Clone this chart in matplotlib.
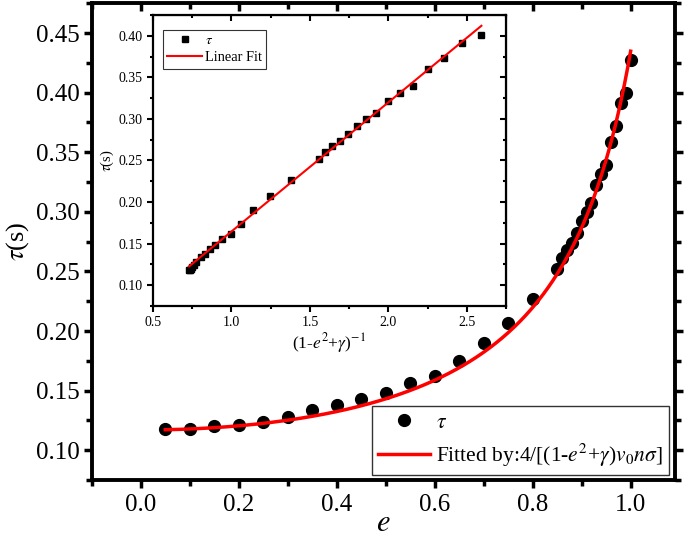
import numpy as np
import matplotlib
matplotlib.use('Agg')
import matplotlib.pyplot as plt
from matplotlib.ticker import MultipleLocator

plt.rcParams['font.family'] = ['Liberation Serif', 'DejaVu Serif']
plt.rcParams['mathtext.fontset'] = 'stix'

# main panel: relaxation time vs restitution coefficient
e_vals = [0.05, 0.10, 0.15, 0.20, 0.25, 0.30, 0.35, 0.40, 0.45, 0.50, 0.55, 0.60,
          0.65, 0.70, 0.75, 0.80, 0.85, 0.86, 0.87, 0.88, 0.89, 0.90, 0.91, 0.92,
          0.93, 0.94, 0.95, 0.96, 0.97, 0.98, 0.99, 1.00]
tau_vals = [0.118, 0.118, 0.120, 0.1215, 0.124, 0.128, 0.134, 0.138, 0.143, 0.148,
            0.156, 0.162, 0.1745, 0.190, 0.2066, 0.227, 0.252, 0.261, 0.268, 0.2736,
            0.282, 0.2926, 0.300, 0.307, 0.3225, 0.332, 0.339, 0.359, 0.372, 0.391,
            0.400, 0.427]

# fit parameters of tau = A / (1 - e^2 + gamma)
fit_A = 0.160
fit_gamma = 0.368

# inset: tau vs (1-e^2+gamma)^-1
inv_vals = [0.730, 0.734, 0.741, 0.750, 0.762, 0.777, 0.806, 0.832, 0.864, 0.896,
            0.939, 0.996, 1.060, 1.140, 1.247, 1.379, 1.556, 1.598, 1.641, 1.690,
            1.743, 1.800, 1.860, 1.924, 1.996, 2.073, 2.158, 2.252, 2.354, 2.467, 2.593]
inv_tau = [0.118, 0.118, 0.120, 0.1215, 0.124, 0.128, 0.134, 0.138, 0.143, 0.148,
           0.155, 0.161, 0.174, 0.190, 0.207, 0.227, 0.252, 0.260, 0.267, 0.274,
           0.282, 0.292, 0.300, 0.307, 0.322, 0.331, 0.339, 0.360, 0.373, 0.391, 0.401]
lin_slope = 0.1553
lin_intercept = 0.0093

fig = plt.figure(figsize=(6.85, 5.43), dpi=100)
ax = fig.add_axes([0.134, 0.116, 0.851, 0.878])

e_fit = np.linspace(min(e_vals), max(e_vals), 300)
ax.plot(e_vals, tau_vals, 'o', color='black', markersize=8.5, label=r'$\tau$', zorder=3)
ax.plot(e_fit, fit_A / (1 - e_fit**2 + fit_gamma), color='#ff0000', linewidth=2.5,
        label=r'Fitted by:4/[(1-$e^2$+$\gamma$)$v_0n\sigma$]', zorder=4)

ax.set_xlim(-0.1, 1.09)
ax.set_ylim(0.075, 0.475)
ax.xaxis.set_major_locator(MultipleLocator(0.2))
ax.xaxis.set_minor_locator(MultipleLocator(0.1))
ax.yaxis.set_major_locator(MultipleLocator(0.05))
ax.yaxis.set_minor_locator(MultipleLocator(0.025))
ax.xaxis.set_major_formatter(matplotlib.ticker.FormatStrFormatter('%.1f'))
ax.yaxis.set_major_formatter(matplotlib.ticker.FormatStrFormatter('%.2f'))
ax.tick_params(which='both', direction='out', width=2.5, labelsize=18, right=True)
ax.tick_params(which='major', length=6)
ax.tick_params(which='minor', length=4)
ax.tick_params(axis='y', pad=3)
ax.tick_params(axis='x', pad=4)
for s in ax.spines.values():
    s.set_linewidth(2.8)

top = ax.secondary_xaxis('top')
top.xaxis.set_major_locator(MultipleLocator(0.2))
top.xaxis.set_minor_locator(MultipleLocator(0.1))
top.tick_params(which='both', direction='in', width=2.5, labeltop=False)
top.tick_params(which='major', length=6)
top.tick_params(which='minor', length=4)

ax.set_xlabel(r'$e$', fontsize=22, labelpad=-5)
ax.set_ylabel(r'$\tau$(s)', fontsize=19, labelpad=3)

leg = ax.legend(loc='lower right', fontsize=15.5, frameon=True, fancybox=False,
                edgecolor='black', handlelength=2.4, borderpad=0.3, borderaxespad=0,
                handletextpad=0.3, labelspacing=0.4,
                bbox_to_anchor=(0.991, 0.0105))
leg.get_frame().set_linewidth(1.0)

# inset
ins = fig.add_axes([0.2234, 0.4365, 0.5153, 0.5359])
ins.plot(inv_vals, inv_tau, 's', color='black', markersize=4.5, label=r'$\tau$', zorder=3)
x_lin = np.array([min(inv_vals), max(inv_vals)])
ins.plot(x_lin, lin_slope * x_lin + lin_intercept, color='#ff0000', linewidth=1.5,
         label='Linear Fit', zorder=4)
ins.set_xlim(0.5, 2.75)
ins.set_ylim(0.075, 0.425)
ins.xaxis.set_major_locator(MultipleLocator(0.5))
ins.xaxis.set_minor_locator(MultipleLocator(0.25))
ins.yaxis.set_major_locator(MultipleLocator(0.05))
ins.yaxis.set_minor_locator(MultipleLocator(0.025))
ins.xaxis.set_major_formatter(matplotlib.ticker.FormatStrFormatter('%.1f'))
ins.yaxis.set_major_formatter(matplotlib.ticker.FormatStrFormatter('%.2f'))
ins.tick_params(which='both', direction='out', width=1.5, labelsize=10)
ins.tick_params(which='major', length=4)
ins.tick_params(which='minor', length=2.5)
for s in ins.spines.values():
    s.set_linewidth(1.6)

ins_top = ins.secondary_xaxis('top')
ins_top.xaxis.set_major_locator(MultipleLocator(0.5))
ins_top.xaxis.set_minor_locator(MultipleLocator(0.25))
ins_top.tick_params(which='both', direction='in', width=1.5, labeltop=False)
ins_top.tick_params(which='major', length=4)
ins_top.tick_params(which='minor', length=2.5)
ins_right = ins.secondary_yaxis('right')
ins_right.yaxis.set_major_locator(MultipleLocator(0.05))
ins_right.yaxis.set_minor_locator(MultipleLocator(0.025))
ins_right.tick_params(which='both', direction='in', width=1.5, labelright=False)
ins_right.tick_params(which='major', length=4)
ins_right.tick_params(which='minor', length=2.5)

ins.set_xlabel(r'(1-$e^2$+$\gamma$)$^{-1}$', fontsize=12.5, labelpad=1)
ins.set_ylabel(r'$\tau$(s)', fontsize=10.5, labelpad=2)

ileg = ins.legend(loc='upper left', fontsize=10.4, frameon=True, fancybox=False,
                  edgecolor='black', handlelength=2.4, borderpad=0.3, borderaxespad=0,
                  handletextpad=0.2, labelspacing=0.3,
                  bbox_to_anchor=(0.028, 0.95))
ileg.get_frame().set_linewidth(0.8)

fig.savefig('out.png', dpi=100)
